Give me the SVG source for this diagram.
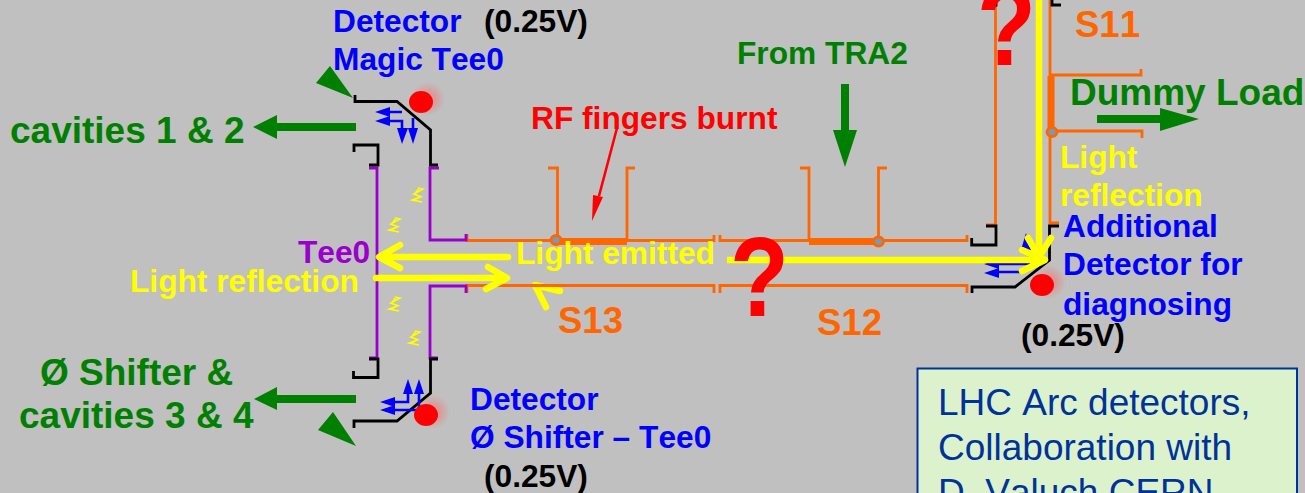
<svg xmlns="http://www.w3.org/2000/svg" xmlns:xlink="http://www.w3.org/1999/xlink" width="1305" height="493" viewBox="0 0 1305 493">
<style>
text{font-family:"Liberation Sans",Arial,sans-serif;font-weight:bold;font-size:31.7px;font-kerning:none}
.bl{fill:#0000ff}.k{fill:#000}.g{fill:#008000}.y{fill:#ffff00}.o{fill:#ff6600}.r{fill:#ff0000}.p{fill:#9900cc}
.big{font-size:36.5px}
.g37{font-size:37px}
.q{font-size:106px;fill:#ff0000}
.note{font-weight:normal;font-size:37px;fill:#003399}
.wk,.wo,.wp,.wb,.wy,.wr,.wz{fill:none}
.wk{stroke:#000;stroke-width:2.8}
.wo{stroke:#ff6600;stroke-width:2.8}
.wp{stroke:#9900cc;stroke-width:2.8}
.wb{stroke:#0000ff;stroke-width:2.6}
.wy{stroke:#ffff00;stroke-width:6.5;stroke-linecap:round;stroke-linejoin:round}
.wz{stroke:#ffff00;stroke-width:1.5}
.fat{stroke:#ff6600;stroke-width:7;fill:none}
.dot{fill:#7799bb;stroke:#ff6600;stroke-width:2.8}
.gl{stroke:#008000;stroke-width:8;fill:none}
</style>
<defs>
<radialGradient id="glow"><stop offset="0.4" stop-color="#ff6060" stop-opacity="0.4"/><stop offset="1" stop-color="#ff6060" stop-opacity="0"/></radialGradient>
<path id="zig" class="wz" d="M0.7-7L6-6L-3.3-1L4 1.7L-5 5L5 7M1.5-6L-3-0.5M3 2L-4 5.5"/>
<g id="red"><circle cx="7" cy="-3" r="17" fill="url(#glow)"/><ellipse rx="12" ry="11" fill="#ff0000"/></g>
</defs>
<rect width="1305" height="493" fill="#c0c0c0"/>

<g id="connectors">
<path class="wy" d="M560 291L535 285L546 307"/>
<path class="wo" d="M467 234V240.5H714V235M720 235V240.5H967V235M467 293V285.5H714V293M720 293V285.5H967V293"/>
<path class="wo" d="M548 168H557.500V240M627 240V168H635M800 168H809V240M878.500 240V168H887"/>
<path class="fat" d="M558 241.500H627M809 241.500H878"/>
<path class="wo" d="M995.500 0V225H986M1050 0V223H1059M1050 75H1141V69M1050 131H1142V138"/>
<path class="fat" d="M1051 76V131"/>
<ellipse class="dot" cx="556" cy="240" rx="5" ry="4.500"/>
<ellipse class="dot" cx="878.500" cy="241.500" rx="5" ry="4.500"/>
<ellipse class="dot" cx="1052" cy="132" rx="5" ry="4.500"/>
<path class="wp" d="M369 168H377V358H369M439 168H430V240H466V234M466 293V286H430V358H438"/>
<use href="#zig" xlink:href="#zig" x="417" y="195"/>
<use href="#zig" xlink:href="#zig" x="394" y="225"/>
<use href="#zig" xlink:href="#zig" x="394" y="304"/>
<use href="#zig" xlink:href="#zig" x="414" y="338"/>
<path class="wk" d="M355 95V101.500H397L430.500 130V165H438M354 152V145H378V165H369"/>
<path class="wk" d="M369 359H378V377.500H353.500V371M438 359H430.500V393L397 421H354V428"/>
<path class="wk" d="M986 226H996V245H971.700V238M1059 226H1049.500V260L1015 287H972V293M1052 0V5H1061M990 5H996V0"/>
<path class="wb" d="M390 112H402M390 121H402V128M413 118V128"/>
<path class="bl" d="M375 112L390 107V117ZM375 121L390 116V126ZM402 144L397 128H408ZM413 144L408 128H418Z"/>
<path class="wb" d="M394 402H408V394M394 410H419V394"/>
<path class="bl" d="M380 402L395 397V407ZM380 410L395 405V415ZM408 379L403 394H413ZM419 379L414 394H424Z"/>
<path class="wb" d="M998 264H1030M998 272H1024"/>
<path class="bl" d="M984 264L999 259V269ZM984 273L999 268V278ZM1026 233L1021 250H1031Z"/>
<path class="wy" d="M508 257H380M400 245L379 257L400 268"/>
<path class="wy" d="M376 278H506M488 267L507 278L486 289"/>
<path class="wy" d="M727 260H1042" style="stroke-linecap:butt"/>
<path class="wy" d="M1039 0V254" style="stroke-linecap:butt"/>
<path class="wy" d="M1028 238L1039 257L1051 238M1022 250L1045 260L1022 271"/>
<path class="gl" d="M275 127H356M275 399H356M845 84V132M1097 119H1162"/>
<path class="g" d="M253 127L277 115V139ZM254 399L277 387V410ZM845 167L833 130H857ZM1199 119L1160 108V131Z"/>
<path class="g" d="M330 66L316 83L353 98ZM333 412L318 430L356 446Z"/>
<path d="M617 128L599 196" stroke="#ff0000" stroke-width="2.600" fill="none"/>
<path class="r" d="M592 221L593 195L603 197Z"/>
</g>

<use id="dot-top" href="#red" xlink:href="#red" x="421" y="102"/>
<use id="dot-bottom" href="#red" xlink:href="#red" x="426" y="415"/>
<use id="dot-right" href="#red" xlink:href="#red" x="1042" y="285"/>

<g id="label-detector-top"><text class="bl" x="333" y="32">Detector</text><text class="bl" x="333" y="70">Magic Tee0</text><text class="k" x="484" y="32">(0.25V)</text></g>
<g id="label-cavities12"><text class="g g37" x="10" y="143">cavities 1 &amp; 2</text></g>
<g id="label-shifter"><text class="g g37" x="40" y="385">Ø Shifter &amp;</text><text class="g g37" x="19" y="428">cavities 3 &amp; 4</text></g>
<g id="label-detector-bottom"><text class="bl" x="470" y="410">Detector</text><text class="bl" x="470" y="448">Ø Shifter – Tee0</text><text class="k" x="484" y="487">(0.25V)</text></g>
<g id="label-rf"><text class="r" x="531" y="129">RF fingers burnt</text></g>
<g id="label-tra2"><text class="g" x="737" y="64">From TRA2</text></g>
<g id="label-tee0"><text class="p" x="298" y="263">Tee0</text></g>
<g id="label-light"><text class="y" x="130" y="292">Light reflection</text><text class="y" x="516" y="264">Light emitted</text><text class="y" x="1060" y="168">Light</text><text class="y" x="1060" y="206">reflection</text></g>
<g id="label-sections"><text class="o big" x="558" y="333">S13</text><text class="o big" x="817" y="335">S12</text><text class="o big" x="1075" y="37">S11</text></g>
<g id="label-dummy"><text class="g g37" x="1070" y="105">Dummy Load</text></g>
<g id="label-additional"><text class="bl" x="1063" y="237">Additional</text><text class="bl" x="1063" y="275">Detector for</text><text class="bl" x="1063" y="315">diagnosing</text><text class="k" x="1021" y="346">(0.25V)</text></g>
<g id="question-marks"><text class="q" transform="translate(730 316) scale(0.91 1.07)" x="0" y="0">?</text><text class="q" transform="translate(977 65) scale(0.91 1.07)" x="0" y="0">?</text></g>
<g id="note"><rect x="917.500" y="368.500" width="379.500" height="140" fill="#dbf2cc" stroke="#003399" stroke-width="2"/><text class="note" x="938" y="415">LHC Arc detectors,</text><text class="note" x="938" y="460">Collaboration with</text><text class="note" x="938" y="505">D. Valuch CERN</text></g>
</svg>
